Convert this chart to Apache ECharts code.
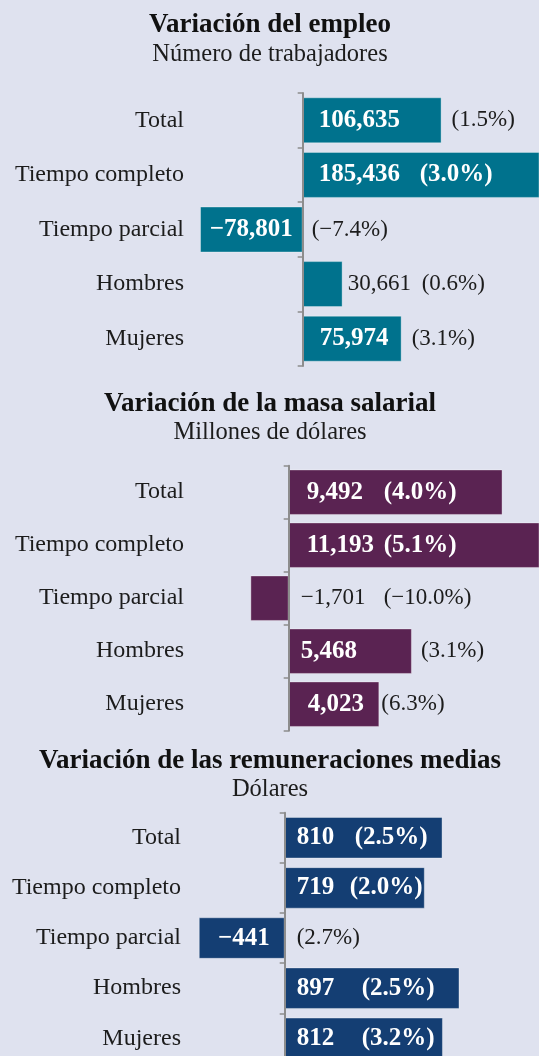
<!DOCTYPE html>
<html lang="es">
<head>
    <meta charset="UTF-8">
    <title>Variación del empleo</title>
    <script src="https://cdn.jsdelivr.net/npm/echarts@6/dist/echarts.min.js"></script>
    <style>
        html, body { margin: 0; padding: 0; background: #dfe2ef; }
        #chart { width: 539px; height: 1056px; }
    </style>
</head>
<body>
    <div id="chart"></div>
<script>
    // datos
    var categorias = ['Total', 'Tiempo completo', 'Tiempo parcial', 'Hombres', 'Mujeres'];

    var empleo = [106635, 185436, -78801, 30661, 75974];
    var empleoPct = [1.5, 3.0, -7.4, 0.6, 3.1];

    var masa = [9492, 11193, -1701, 5468, 4023];
    var masaPct = [4.0, 5.1, -10.0, 3.1, 6.3];

    var remun = [810, 719, -441, 897, 812];
    var remunPct = [2.5, 2.0, 2.7, 2.5, 3.2];

    var titulos = ['Variación del empleo', 'Variación de la masa salarial', 'Variación de las remuneraciones medias'];
    var subtitulos = ['Número de trabajadores', 'Millones de dólares', 'Dólares'];

    // colocación de las etiquetas: v = valor dentro, vp = valor y % dentro, '' = todo fuera
    var disposicion = [
        { modo: ['v', 'vp', 'v', '', 'v'], ancho: [0, 101, 0, 74, 0], distIn: [16, 16, 10, 0, 17], distOut: [10, 0, 9, 5, 10] },
        { modo: ['vp', 'vp', '', 'v', 'v'], ancho: [77, 77, 83, 0, 0], distIn: [18, 18, 0, 12, 19], distOut: [0, 0, 12, 9, 2] },
        { modo: ['vp', 'vp', 'v', 'vp', 'vp'], ancho: [58, 53, 0, 65, 65], distIn: [12, 12, 15, 12, 12], distOut: [0, 0, 12, 0, 0] }
    ];

    var fuente = '"Liberation Serif", "DejaVu Serif", serif';
    var colores = ['#00728d', '#5a2352', '#143e73'];

    function fmtNum(v) {
        var s = Math.abs(v).toLocaleString('en-US');
        return v < 0 ? '\u2212' + s : s;
    }
    function fmtPct(p) {
        return '(' + (p < 0 ? '\u2212' : '') + Math.abs(p).toFixed(1) + '%)';
    }

    function richDentro(w) {
        return {
            v: { color: '#fff', fontWeight: 'bold', fontSize: 25, fontFamily: fuente, width: w || null },
            p: { color: '#fff', fontWeight: 'bold', fontSize: 25, fontFamily: fuente }
        };
    }
    function richFuera(w) {
        return {
            v: { color: '#1c1c1c', fontSize: 23, fontFamily: fuente, width: w || null },
            p: { color: '#1c1c1c', fontSize: 23, fontFamily: fuente }
        };
    }

    function crearSeries(idx, valores, pcts, ancho) {
        var d = disposicion[idx];
        var dentro = [], fuera = [];
        for (var i = 0; i < valores.length; i++) {
            var v = valores[i], modo = d.modo[i];
            var txtIn = '', txtOut = '', wIn = 0, wOut = 0;
            if (modo === 'vp') {
                txtIn = '{v|' + fmtNum(v) + '}{p|' + fmtPct(pcts[i]) + '}';
                wIn = d.ancho[i];
            } else if (modo === 'v') {
                txtIn = '{v|' + fmtNum(v) + '}';
                txtOut = '{p|' + fmtPct(pcts[i]) + '}';
            } else {
                txtOut = '{v|' + fmtNum(v) + '}{p|' + fmtPct(pcts[i]) + '}';
                wOut = d.ancho[i];
            }
            dentro.push({
                value: v,
                label: {
                    show: txtIn !== '',
                    position: v < 0 ? 'insideRight' : 'insideLeft',
                    distance: d.distIn[i],
                    formatter: txtIn,
                    rich: richDentro(wIn)
                }
            });
            fuera.push({
                value: v,
                label: {
                    show: txtOut !== '',
                    position: 'right',
                    distance: d.distOut[i],
                    formatter: txtOut,
                    rich: richFuera(wOut)
                }
            });
        }
        return [
            {
                type: 'bar',
                xAxisIndex: idx,
                yAxisIndex: idx,
                data: dentro,
                barWidth: ancho,
                barGap: '-100%',
                itemStyle: { color: colores[idx], borderColor: 'rgba(255,255,255,0.35)', borderWidth: 1 },
                emphasis: { disabled: true }
            },
            {
                type: 'bar',
                xAxisIndex: idx,
                yAxisIndex: idx,
                data: fuera,
                barWidth: ancho,
                barGap: '-100%',
                silent: true,
                itemStyle: { color: 'transparent' },
                emphasis: { disabled: true }
            }
        ];
    }

    var myChart = echarts.init(document.getElementById('chart'));

    var rejillas = [
        { left: 190, right: 0, top: 93, height: 273, outerBoundsMode: 'none' },
        { left: 190, right: 0, top: 465.7, height: 265, outerBoundsMode: 'none' },
        { left: 190, right: 0, top: 812.7, height: 250.7, outerBoundsMode: 'none' }
    ];
    var limites = [[-86500, 181400], [-4381, 11110], [-486, 1305]];
    var margenes = [6, 6, 9];
    var topsTitulo = [12, 390.3, 747.1];

    var ejesY = [];
    for (var k = 0; k < 3; k++) {
        ejesY.push({
            type: 'category',
            gridIndex: k,
            data: categorias,
            inverse: true,
            z: 5,
            axisLine: { onZero: true, lineStyle: { color: '#8d8d8d', width: 2 } },
            axisTick: { show: true, length: 5, lineStyle: { color: '#8d8d8d', width: 1.5 } },
            axisLabel: { interval: 0, margin: margenes[k], fontSize: 24, fontFamily: fuente, color: '#1c1c1c' }
        });
    }

    var option = {
        backgroundColor: '#dfe2ef',
        animation: false,
        title: titulos.map(function (t, k) {
            return {
                text: t,
                subtext: subtitulos[k],
                left: 270,
                top: topsTitulo[k],
                textAlign: 'center',
                padding: 0,
                itemGap: 3,
                textStyle: { fontFamily: fuente, fontSize: 27, fontWeight: 'bold', color: '#111' },
                subtextStyle: { fontFamily: fuente, fontSize: 24.5, color: '#1c1c1c' }
            };
        }),
        grid: rejillas,
        xAxis: limites.map(function (l, k) {
            return { type: 'value', gridIndex: k, min: l[0], max: l[1], show: false };
        }),
        yAxis: ejesY,
        series: []
            .concat(crearSeries(0, empleo, empleoPct, 46))
            .concat(crearSeries(1, masa, masaPct, 45.5))
            .concat(crearSeries(2, remun, remunPct, 41.5))
    };
    myChart.setOption(option, true);
</script>
</body>
</html>
